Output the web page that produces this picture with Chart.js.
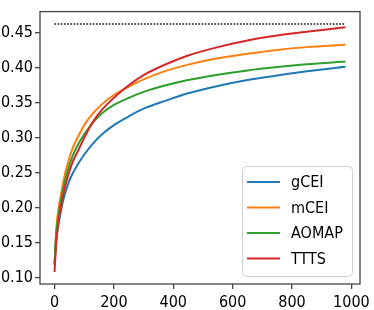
<!DOCTYPE html>
<html>
<head>
<meta charset="utf-8">
<script src="https://cdn.jsdelivr.net/npm/chart.js@4/dist/chart.umd.min.js"></script>
<style>
  html, body { margin: 0; padding: 0; background: #fff; }
  #wrap { width: 374px; height: 310px; }
</style>
</head>
<body>
<div id="wrap"><canvas id="chart" width="374" height="310"></canvas></div>
<script>
const steps = [0, 5, 10, 20, 30, 45, 60, 80, 100, 130, 160, 200, 250, 300, 375, 450, 550, 650, 750, 850, 980];

const gCEI  = [0.118, 0.152, 0.168, 0.192, 0.212, 0.233, 0.248, 0.263, 0.276, 0.292, 0.305, 0.318, 0.3305, 0.3415, 0.353, 0.3635, 0.374, 0.3825, 0.389, 0.395, 0.4015];
const mCEI  = [0.118, 0.162, 0.188, 0.215, 0.238, 0.264, 0.284, 0.302, 0.318, 0.335, 0.348, 0.361, 0.373, 0.3835, 0.3955, 0.4045, 0.4135, 0.420, 0.4255, 0.4295, 0.433];
const AOMAP = [0.120, 0.160, 0.180, 0.207, 0.229, 0.254, 0.273, 0.291, 0.305, 0.322, 0.335, 0.347, 0.357, 0.3655, 0.375, 0.3825, 0.390, 0.3962, 0.401, 0.405, 0.4088];
const TTTS  = [0.108, 0.145, 0.168, 0.198, 0.220, 0.245, 0.264, 0.282, 0.300, 0.323, 0.340, 0.357, 0.375, 0.3895, 0.405, 0.4175, 0.4295, 0.439, 0.446, 0.4515, 0.458];

const optimum = 0.4626;
const optimumRange = [0, 980];

const seriesNames = ['gCEI', 'mCEI', 'AOMAP', 'TTTS'];
const seriesValues = [gCEI, mCEI, AOMAP, TTTS];
const colors = ['#1f77b4', '#ff7f0e', '#2ca02c', '#d62728'];

const xTicks = [0, 200, 400, 600, 800, 1000];
const yTicks = [0.10, 0.15, 0.20, 0.25, 0.30, 0.35, 0.40, 0.45];

const FONT = "'DejaVu Sans Condensed', 'DejaVu Sans', sans-serif";

const datasets = seriesNames.map((name, i) => ({
    label: name,
    data: steps.map((s, j) => ({ x: s, y: seriesValues[i][j] })),
    borderColor: colors[i],
    borderWidth: 2,
    pointRadius: 0,
    cubicInterpolationMode: 'monotone',
    order: seriesNames.length - 1 - i
}));

datasets.push({
    label: 'optimum',
    data: optimumRange.map(x => ({ x: x, y: optimum })),
    borderColor: '#111',
    borderWidth: 1.6,
    borderDash: [1.6, 1.6],
    pointRadius: 0,
    order: 10
});

// box around the plot plus the legend in the lower right corner
const framePlugin = {
    id: 'frame',
    afterDraw(chart) {
        const ctx = chart.ctx;
        const a = chart.chartArea;
        ctx.save();
        ctx.strokeStyle = '#444';
        ctx.lineWidth = 1.3;
        ctx.strokeRect(a.left, a.top, a.right - a.left, a.bottom - a.top);

        const w = 110, h = 110;
        const bx = a.right - 8 - w, by = a.bottom - 8 - h;
        ctx.beginPath();
        ctx.roundRect(bx + 0.5, by + 0.5, w, h, 4);
        ctx.fillStyle = 'rgba(255,255,255,0.8)';
        ctx.fill();
        ctx.strokeStyle = '#d0d0d0';
        ctx.lineWidth = 1;
        ctx.stroke();

        ctx.font = '16px ' + FONT;
        ctx.textBaseline = 'middle';
        ctx.textAlign = 'left';
        seriesNames.forEach((name, i) => {
            const y = by + 16 + i * 25.5;
            ctx.beginPath();
            ctx.moveTo(bx + 5, y);
            ctx.lineTo(bx + 38, y);
            ctx.strokeStyle = colors[i];
            ctx.lineWidth = 2;
            ctx.stroke();
            ctx.fillStyle = '#000';
            ctx.fillText(name, bx + 49, y + 1);
        });
        ctx.restore();
    }
};

new Chart(document.getElementById('chart').getContext('2d'), {
    type: 'line',
    data: { datasets: datasets },
    options: {
        responsive: false,
        animation: false,
        layout: { padding: { top: 1, right: 11, left: 0, bottom: 0 } },
        plugins: { legend: { display: false }, tooltip: { enabled: false } },
        scales: {
            x: {
                type: 'linear',
                min: -49,
                max: 1029,
                afterBuildTicks: s => { s.ticks = xTicks.map(v => ({ value: v })); },
                afterFit: s => { s.height = 26; },
                border: { display: false },
                grid: { drawOnChartArea: false, drawTicks: true, tickLength: 5, color: '#444', lineWidth: 1.3 },
                ticks: { color: '#000', font: { family: FONT, size: 16 }, padding: 4, maxRotation: 0, callback: v => String(v) }
            },
            y: {
                type: 'linear',
                min: 0.0908,
                max: 0.4803,
                afterBuildTicks: s => { s.ticks = yTicks.map(v => ({ value: v })); },
                afterFit: s => { s.width = 40; },
                border: { display: false },
                grid: { drawOnChartArea: false, drawTicks: true, tickLength: 5, color: '#444', lineWidth: 1.3 },
                ticks: { color: '#000', font: { family: FONT, size: 16 }, padding: 2, callback: v => v.toFixed(2) }
            }
        }
    },
    plugins: [framePlugin]
});
</script>
</body>
</html>
